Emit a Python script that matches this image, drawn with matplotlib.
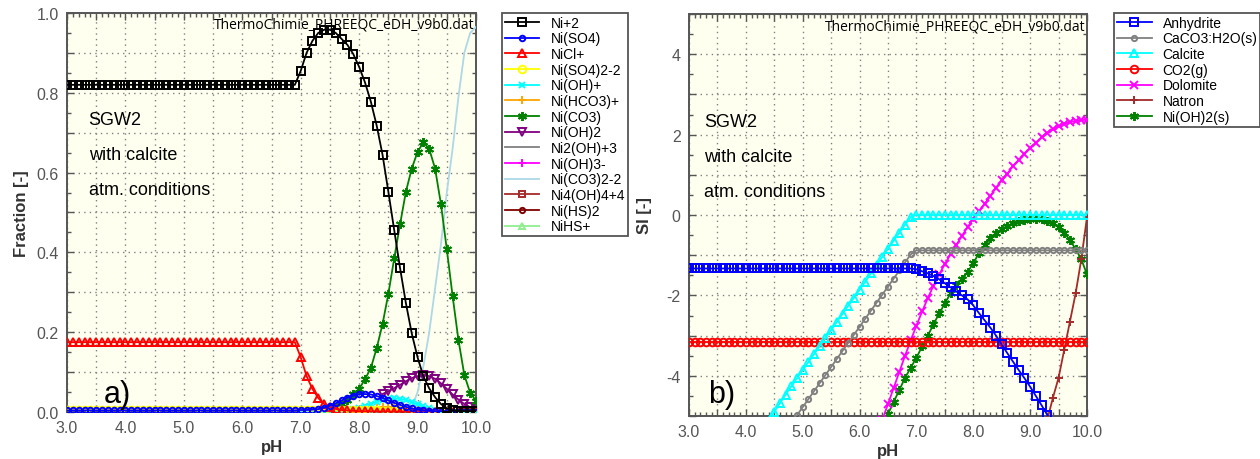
import numpy as np
import matplotlib
matplotlib.use("Agg")
import matplotlib.pyplot as plt
from matplotlib.ticker import MultipleLocator, FuncFormatter

plt.rcParams["font.family"] = ["Liberation Sans", "DejaVu Sans"]
plt.rcParams["axes.unicode_minus"] = False

nan = np.nan

# pH grid, 0.1 steps from 3.0 to 10.0 (71 points)
ph = np.round(np.linspace(3.0, 10.0, 71), 1)

# ---- a) Ni species fractions (values read off the picture) ----
ni2 = [0.82] * 40 + [0.855, 0.90, 0.93, 0.95, 0.958, 0.958, 0.95, 0.935, 0.92, 0.897,
                     0.865, 0.826, 0.778, 0.718, 0.645, 0.552, 0.456, 0.361, 0.273, 0.197,
                     0.137, 0.089, 0.059, 0.037, 0.020, 0.009, 0.004, 0.003, 0.002, 0.002, 0.002]
niso4 = [0.004] * 40 + [0.005, 0.005, 0.006, 0.007, 0.011, 0.016, 0.022, 0.029, 0.036, 0.041,
                        0.044, 0.045, 0.044, 0.040, 0.035, 0.029, 0.023, 0.018, 0.013, 0.009,
                        0.006, 0.004, 0.003, 0.002, 0.001, 0.001, 0.0, 0.0, 0.0, 0.0, 0.0]
nicl = [0.175] * 40 + [0.137, 0.09, 0.058, 0.035, 0.02, 0.012, 0.008, 0.005, 0.004, 0.003,
                       0.002, 0.002, 0.002, 0.001, 0.001, 0.001, 0.001, 0.001, 0.001, 0.0,
                       0.0, 0.0, 0.0, 0.0, 0.0, 0.0, 0.0, 0.0, 0.0, 0.0, 0.0]
niso4_2 = [0.005] * 40 + [0.004, 0.004, 0.004, 0.004, 0.004, 0.004, 0.004, 0.004, 0.004, 0.004,
                          0.004, 0.004, 0.004, 0.004, 0.003, 0.003, 0.003, 0.002, 0.002, 0.001,
                          0.001, 0.0, 0.0, 0.0, 0.0, 0.0, 0.0, 0.0, 0.0, 0.0, 0.0]
nioh = [nan] * 40 + [0.0, 0.0, 0.0, 0.0, 0.0, 0.0, 0.001, 0.002, 0.004, 0.007,
                     0.011, 0.016, 0.021, 0.026, 0.030, 0.033, 0.034, 0.033, 0.030, 0.025,
                     0.019, 0.014, 0.009, 0.006, 0.003, 0.002, 0.001, 0.0, 0.0, 0.0, 0.0]
nihco3 = [nan] * 40 + [0.0, 0.0, 0.0, 0.0, 0.0, 0.0, 0.001, 0.002, 0.003, 0.005,
                       0.006, 0.008, 0.009, 0.011, 0.012, 0.012, 0.012, 0.011, 0.009, 0.007,
                       0.005, 0.003, 0.002, 0.001, 0.0, 0.0, 0.0, 0.0, 0.0, 0.0, 0.0]
nico3 = [nan] * 40 + [0.001, 0.002, 0.003, 0.004, 0.006, 0.009, 0.013, 0.02, 0.03, 0.044,
                      0.058, 0.082, 0.11, 0.16, 0.22, 0.296, 0.385, 0.47, 0.552, 0.61,
                      0.652, 0.676, 0.659, 0.61, 0.521, 0.408, 0.29, 0.18, 0.093, 0.048, 0.028]
nioh2 = [nan] * 54 + [0.045, 0.052, 0.06, 0.068, 0.077, 0.085, 0.09, 0.092, 0.09, 0.083,
                      0.072, 0.058, 0.044, 0.031, 0.02, 0.012, 0.008]
ni2oh3 = [nan] * 40 + [0.0] * 31
nioh3 = [nan] * 60 + [0.0, 0.0, 0.0, 0.0, 0.001, 0.001, 0.001, 0.001, 0.002, 0.002, 0.002]
nico3_2 = [nan] * 58 + [0.0, 0.01, 0.05, 0.115, 0.2, 0.31, 0.42, 0.55, 0.66, 0.79, 0.90,
                        0.95, 0.965]
ni4oh4 = [nan] * 46 + [0.0] * 14 + [nan] * 11
nihs2 = [nan] * 46 + [0.001] * 13 + [nan] * 12
nihs = [nan] * 47 + [0.0] * 10 + [nan] * 14

species_a = ["Ni+2", "Ni(SO4)", "NiCl+", "Ni(SO4)2-2", "Ni(OH)+", "Ni(HCO3)+", "Ni(CO3)",
             "Ni(OH)2", "Ni2(OH)+3", "Ni(OH)3-", "Ni(CO3)2-2", "Ni4(OH)4+4", "Ni(HS)2", "NiHS+"]
values_a = [ni2, niso4, nicl, niso4_2, nioh, nihco3, nico3,
            nioh2, ni2oh3, nioh3, nico3_2, ni4oh4, nihs2, nihs]

# ---- b) saturation indices ----
anhydrite = [-1.33] * 40 + [-1.35, -1.40, -1.45, -1.52, -1.60, -1.70, -1.80, -1.90, -2.0, -2.1,
                            -2.25, -2.44, -2.62, -2.8, -3.0, -3.22, -3.44, -3.65, -3.86, -4.06,
                            -4.27, -4.5, -4.73, -4.97, -5.2, nan, nan, nan, nan, nan, nan]
caco3h2o = [nan] * 18 + [-5.18, -4.98, -4.78, -4.58, -4.38, -4.18, -3.98, -3.78, -3.58, -3.38,
                         -3.18, -2.98, -2.78, -2.58, -2.38, -2.18, -1.98, -1.78, -1.58, -1.38,
                         -1.18, -0.98] + [-0.88] * 31
calcite = [nan] * 14 + [-5.12, -4.9, -4.68, -4.47, -4.26, -4.06, -3.86, -3.66, -3.46, -3.26,
                        -3.06, -2.86, -2.66, -2.46, -2.26, -2.06, -1.86, -1.66, -1.45, -1.25,
                        -1.04, -0.84, -0.64, -0.44, -0.24, -0.05] + [0.0] * 31
co2g = [-3.15] * 71
dolomite = [nan] * 34 + [-5.1, -4.7, -4.3, -3.9, -3.5, -3.12,
                         -2.75, -2.4, -2.07, -1.76, -1.48, -1.22, -0.98, -0.75, -0.52, -0.3,
                         -0.1, 0.1, 0.28, 0.47, 0.68, 0.86, 1.03, 1.22, 1.37, 1.52,
                         1.66, 1.8, 1.93, 2.04, 2.13, 2.21, 2.27, 2.31, 2.34, 2.36, 2.37]
natron = [nan] * 62 + [-5.6, -5.1, -4.55, -4.05, -3.35, -2.65, -1.95, -1.1, -0.05]
nioh2s = [nan] * 34 + [-5.3, -4.95, -4.65, -4.35, -4.05, -3.8,
                       -3.55, -3.27, -3.0, -2.72, -2.45, -2.2, -1.95, -1.75, -1.6, -1.42,
                       -1.2, -0.95, -0.75, -0.58, -0.45, -0.35, -0.27, -0.2, -0.15, -0.12,
                       -0.1, -0.09, -0.1, -0.14, -0.2, -0.3, -0.45, -0.62, -0.85, -1.1, -1.48]

phases_b = ["Anhydrite", "CaCO3:H2O(s)", "Calcite", "CO2(g)", "Dolomite", "Natron", "Ni(OH)2(s)"]
values_b = [anhydrite, caco3h2o, calcite, co2g, dolomite, natron, nioh2s]

# colour, marker, markersize
styles_a = [("black", "s", 6.3), ("blue", "o", 4.0), ("red", "^", 5.5), ("#FFFF00", "o", 5.5),
            ("cyan", "x", 5.0), ("orange", "+", 5.5), ("green", (6, 2, 0), 6.5),
            ("purple", "v", 5.5), ("gray", None, 0), ("magenta", "+", 5.5),
            ("lightblue", None, 0), ("#A52A2A", "s", 5.0), ("#800000", "o", 3.8),
            ("lightgreen", "^", 5.0)]
styles_b = [("blue", "s", 5.8), ("gray", "o", 3.8), ("cyan", "^", 5.5), ("red", "o", 5.5),
            ("magenta", "x", 5.5), ("#A52A2A", "+", 5.5), ("green", (6, 2, 0), 6.5)]

fig = plt.figure(figsize=(12.6, 4.6), dpi=100)
ax1 = fig.add_axes([67 / 1260, 47 / 460, 409 / 1260, 399 / 460])
ax2 = fig.add_axes([689 / 1260, 43 / 460, 398 / 1260, 402 / 460])

def draw(ax, names, vals, styles):
    n = len(names)
    for i, (nm, v, st) in enumerate(zip(names, vals, styles)):
        col, mk, ms = st
        ax.plot(ph, v, color=col, marker=mk, markersize=ms, markerfacecolor="none",
                markeredgewidth=1.4, linewidth=1.3, label=nm, zorder=10 + n - i)

def style(ax, ylim, ymaj, ymin, lab_every, fmt):
    ax.set_xlim(3.0, 10.0)
    ax.set_ylim(*ylim)
    ax.set_facecolor("#FFFFF0")
    ax.xaxis.set_major_locator(MultipleLocator(0.5))
    ax.xaxis.set_minor_locator(MultipleLocator(0.1))
    ax.xaxis.set_major_formatter(FuncFormatter(
        lambda x, p: "%.1f" % x if abs(x - round(x)) < 1e-6 else ""))
    ax.yaxis.set_major_locator(MultipleLocator(ymaj))
    ax.yaxis.set_minor_locator(MultipleLocator(ymin))
    ax.yaxis.set_major_formatter(FuncFormatter(
        lambda y, p: fmt % y if abs(y / lab_every - round(y / lab_every)) < 1e-6 else ""))
    ax.tick_params(which="both", direction="in", top=True, right=True, color="#555555",
                   labelsize=11.5, labelcolor="#555555", width=1.0)
    ax.tick_params(which="major", length=5, pad=6)
    ax.tick_params(which="minor", length=3)
    ax.grid(True, which="major", linestyle=(0, (1, 3)), color="#808080", linewidth=1.0)
    for s in ax.spines.values():
        s.set_color("#555555")
        s.set_linewidth(1.4)
    ax.set_xlabel("pH", fontsize=12, fontweight="bold", color="#333333", labelpad=3)

draw(ax1, species_a, values_a, styles_a)
style(ax1, (0, 1.0), 0.1, 0.05, 0.2, "%.1f")
ax1.set_ylabel("Fraction [-]", fontsize=12, fontweight="bold", color="#333333", labelpad=5)

draw(ax2, phases_b, values_b, styles_b)
style(ax2, (-5, 5), 1, 0.5, 2, "%d")
ax2.set_ylabel("SI [-]", fontsize=12, fontweight="bold", color="#333333", labelpad=10)

for ax, tag, xo, yo in [(ax1, "a)", 0.09, 0.045), (ax2, "b)", 0.048, 0.055)]:
    ax.text(0.997, 0.99, "ThermoChimie_PHREEQC_eDH_v9b0.dat", transform=ax.transAxes,
            ha="right", va="top", fontsize=10, family=["Open Sans", "DejaVu Sans"], zorder=40)
    x0 = 0.053 if ax is ax1 else 0.038
    for txt, yy in [("SGW2", 0.732), ("with calcite", 0.645), ("atm. conditions", 0.558)]:
        ax.text(x0, yy, txt, transform=ax.transAxes, ha="left", va="center",
                fontsize=13, zorder=40)
    ax.text(xo, yo, tag, transform=ax.transAxes, ha="left", va="center", fontsize=22, zorder=40)

leg_kw = dict(loc="upper left", bbox_transform=fig.transFigure, borderaxespad=0,
              fancybox=False, edgecolor="#555555", fontsize=10, handlelength=2.5,
              labelspacing=0.12, borderpad=0.2, handletextpad=0.8, numpoints=1,
              framealpha=1)
l1 = ax1.legend(bbox_to_anchor=(502 / 1260, 1 - 14 / 460), **leg_kw)
l2 = ax2.legend(bbox_to_anchor=(1114 / 1260, 1 - 14 / 460), **leg_kw)
for lg in (l1, l2):
    lg.get_frame().set_linewidth(1.3)
    lg.set_zorder(50)

fig.savefig("out.png", dpi=100)
